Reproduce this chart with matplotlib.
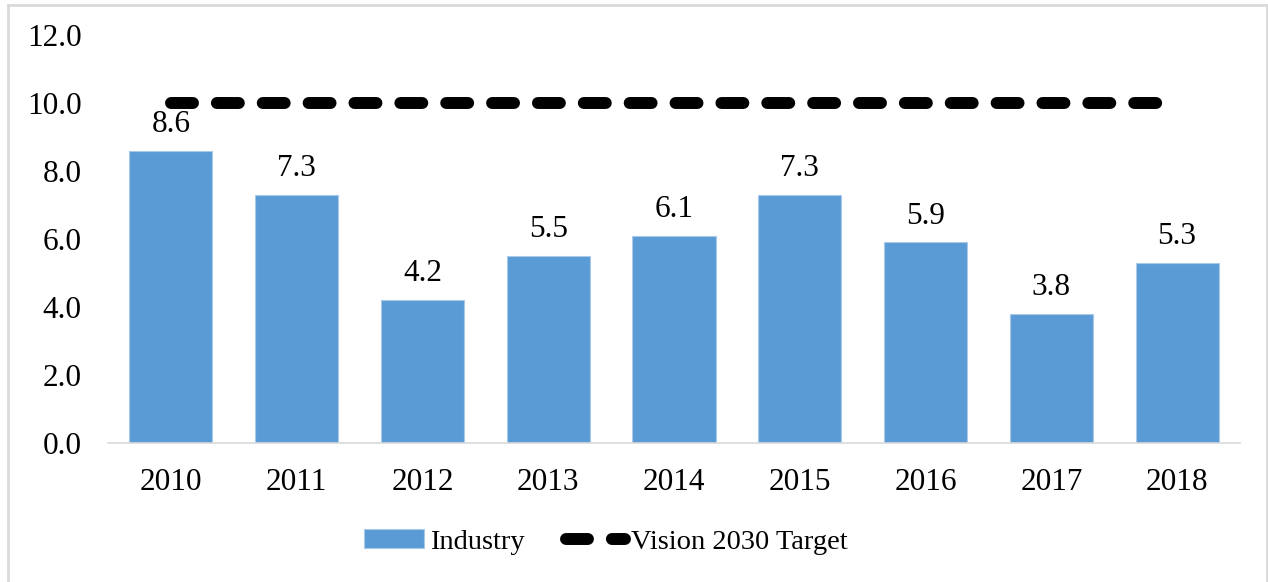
# industry growth by year vs the vision 2030 target line
import matplotlib.pyplot as plt
from matplotlib.patches import Rectangle

years = ["2010", "2011", "2012", "2013", "2014", "2015", "2016", "2017", "2018"]
industry = [8.6, 7.3, 4.2, 5.5, 6.1, 7.3, 5.9, 3.8, 5.3]
target = [10.0] * len(years)

plt.rcParams['font.family'] = ['Liberation Serif', 'DejaVu Serif']

fig = plt.figure(figsize=(12.68, 5.82), dpi=100)
ax = fig.add_axes([108/1268, 1-443/582, (1240-108)/1268, (443-35)/582])

x = list(range(len(years)))
bars = ax.bar(x, industry, width=0.66, color="#5B9BD5", edgecolor="#a9c9eb", linewidth=0.8,
              label="Industry", zorder=2)
ln, = ax.plot(x, target, color="black", lw=8.6, dash_capstyle="round",
              label="Vision 2030 Target", zorder=3)
ln.set_dashes((1.84, 2.0))

for xi, v in zip(x, industry):
    ax.annotate(f"{v:.1f}", (xi, v), xytext=(0, 13.5), textcoords="offset points",
                ha="center", va="baseline", fontsize=22.5)

ax.set_xlim(-0.5, 8.5)
ax.set_ylim(0, 12)
ax.set_yticks([0, 2, 4, 6, 8, 10, 12])
ax.set_yticklabels([f"{t:.1f}" for t in [0, 2, 4, 6, 8, 10, 12]])
ax.set_xticks(x)
ax.set_xticklabels(years)
ax.tick_params(axis="both", length=0, labelsize=22.5)
ax.tick_params(axis="y", pad=19)
ax.tick_params(axis="x", pad=18)
for s in ["top", "right", "left"]:
    ax.spines[s].set_visible(False)
ax.spines["bottom"].set_color("#d9d9d9")
ax.spines["bottom"].set_linewidth(1.2)

leg = fig.legend(handles=[bars, ln], loc="center", bbox_to_anchor=(606/1268, 1-542/582),
                 ncol=2, frameon=False, fontsize=20.5, handlelength=2.1, handleheight=0.6,
                 handletextpad=0.2, columnspacing=1.45)

# grey frame around the whole thing, bottom edge is cut off in the original
fig.patches.append(Rectangle((8/1268, -0.05), 1259/1268, 1.05-5/582, transform=fig.transFigure,
                             fill=False, edgecolor="#d9d9d9", linewidth=2))

fig.savefig("out.png", dpi=100)
